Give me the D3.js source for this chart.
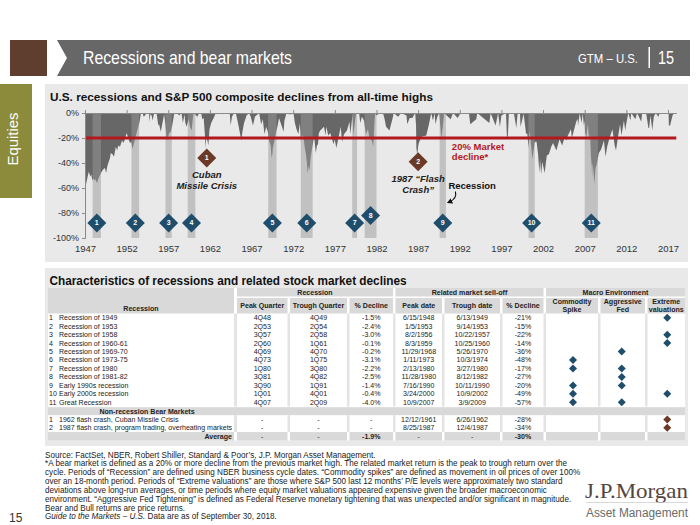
<!DOCTYPE html>
<html><head><meta charset="utf-8">
<script src="https://cdn.jsdelivr.net/npm/d3@7/dist/d3.min.js"></script>
<style>
body{margin:0;background:#fff;}
svg{display:block;font-family:"Liberation Sans",Arial,Helvetica,sans-serif;}
</style></head><body>
<svg id="c" width="700" height="525"></svg>
<script>
// ---------- DATA ----------
// S&P 500 decline from all-time high: [decimal year, % decline]
const drawdown = [
[1948.00,-54],[1948.12,-57],[1948.25,-53],[1948.38,-49],[1948.46,-47],[1948.55,-49],[1948.65,-51],[1948.75,-49],[1948.88,-54],
[1949.00,-52],[1949.12,-54],[1949.25,-53],[1949.38,-55],[1949.46,-56],[1949.58,-53],[1949.70,-51],[1949.85,-49],
[1950.00,-47],[1950.20,-45],[1950.40,-44],[1950.53,-48],[1950.70,-42],[1950.90,-38],[1951.00,-36],[1951.10,-32],[1951.30,-33],
[1951.48,-35],[1951.70,-27],[1951.85,-30],[1952.00,-26],[1952.20,-27],[1952.45,-22],[1952.60,-24],[1952.80,-21],[1953.00,-16],
[1953.20,-20],[1953.40,-24],[1953.55,-23],[1953.71,-29],[1953.85,-25],[1954.00,-21],[1954.20,-16],[1954.40,-11],[1954.55,-7],
[1954.72,0],[1954.90,0],[1955.05,-3],[1955.20,-2],[1955.40,0],[1955.70,0],[1955.73,-7],[1955.85,-1],[1956.00,-2],[1956.12,-6],
[1956.30,0],[1956.59,0],[1956.80,-10],[1956.90,-9],[1957.10,-15],[1957.30,-8],[1957.50,-1],[1957.65,-9],[1957.81,-22],
[1957.95,-20],[1958.10,-16],[1958.30,-15],[1958.50,-9],[1958.72,0],[1958.90,0],[1959.05,0],[1959.30,-2],[1959.59,0],
[1959.75,-8],[1959.95,-1],[1960.05,-8],[1960.20,-11],[1960.45,-5],[1960.60,-11],[1960.82,-14],[1960.95,-4],[1961.05,0],
[1961.50,-3],[1961.70,0],[1961.95,0],[1962.08,-5],[1962.25,-4],[1962.40,-18],[1962.49,-28],[1962.55,-20],[1962.70,-22],
[1962.81,-26],[1962.95,-13],[1963.15,-8],[1963.45,-4],[1963.70,0],[1963.90,-1],[1964.20,0],[1964.50,-1],[1964.90,0],
[1965.38,0],[1965.49,-10],[1965.65,-3],[1965.90,0],[1966.11,0],[1966.40,-9],[1966.60,-16],[1966.77,-22],[1966.90,-15],
[1967.10,-8],[1967.40,-2],[1967.70,0],[1967.90,-3],[1968.17,-10],[1968.40,-3],[1968.91,0],[1969.15,-9],[1969.35,-5],
[1969.55,-17],[1969.75,-11],[1969.95,-15],[1970.10,-22],[1970.30,-26],[1970.40,-36],[1970.50,-33],[1970.55,-28],[1970.75,-22],
[1970.95,-15],[1971.10,-11],[1971.30,-4],[1971.50,-8],[1971.85,-15],[1971.95,-6],[1972.20,0],[1972.50,-1],[1972.80,-1],
[1973.03,0],[1973.20,-8],[1973.40,-13],[1973.62,-17],[1973.80,-8],[1973.93,-23],[1974.00,-19],[1974.20,-18],[1974.40,-28],
[1974.55,-34],[1974.65,-40],[1974.72,-47],[1974.76,-48],[1974.85,-42],[1974.93,-46],[1975.00,-43],[1975.08,-36],[1975.20,-31],
[1975.45,-21],[1975.55,-21],[1975.71,-32],[1975.85,-26],[1975.98,-25],[1976.08,-16],[1976.25,-14],[1976.70,-11],[1976.88,-18],
[1976.98,-11],[1977.20,-18],[1977.45,-16],[1977.85,-25],[1977.98,-21],[1978.18,-28],[1978.40,-21],[1978.70,-11],[1978.87,-23],
[1978.98,-20],[1979.10,-17],[1979.45,-14],[1979.76,-7],[1979.85,-17],[1979.98,-10],[1980.12,-1.5],[1980.24,-18],[1980.40,-8],
[1980.55,0],[1980.91,0],[1981.05,-8],[1981.25,-3],[1981.50,-6],[1981.73,-17],[1981.98,-13],[1982.15,-20],[1982.45,-22],
[1982.61,-27],[1982.78,-5],[1982.84,0],[1982.98,-2],[1983.40,0],[1983.78,0],[1983.98,-5],[1984.15,-11],[1984.56,-14],
[1984.98,-3],[1985.05,0],[1985.60,-3],[1985.95,0],[1986.60,-2],[1986.70,-9],[1986.98,-4],[1987.30,-4],[1987.65,0],
[1987.75,-10],[1987.80,-33],[1987.85,-28],[1987.93,-34],[1987.99,-27],[1988.08,-24],[1988.40,-19],[1988.98,-18],[1989.30,-9],
[1989.57,0],[1989.78,-6],[1989.98,0],[1990.08,-9],[1990.30,-3],[1990.54,0],[1990.78,-20],[1990.98,-10],[1991.12,0],
[1991.90,-5],[1992.20,0],[1992.75,-4],[1993.10,0],[1994.10,0],[1994.26,-9],[1994.98,-5],[1995.10,0],[1996.55,-8],
[1996.70,0],[1997.30,-10],[1997.60,0],[1997.82,-11],[1998.00,-2],[1998.55,0],[1998.66,-19],[1998.77,-19],[1998.90,0],
[1999.50,0],[1999.79,-12],[1999.95,0],[2000.23,0],[2000.30,-11],[2000.67,-0.5],[2000.97,-17],[2001.10,-16],[2001.26,-28],
[2001.39,-14],[2001.72,-37],[2001.98,-24],[2002.08,-23],[2002.22,-23],[2002.40,-33],[2002.56,-48],[2002.64,-37],[2002.77,-49],
[2002.91,-39],[2003.00,-42],[2003.19,-48],[2003.45,-34],[2003.70,-33],[2003.98,-27],[2004.20,-24],[2004.60,-30],[2004.98,-21],
[2005.30,-26],[2005.60,-19],[2005.80,-22],[2005.98,-18],[2006.35,-13],[2006.46,-20],[2006.98,-7],[2007.15,-4.5],[2007.20,-10],
[2007.41,0],[2007.62,-8],[2007.77,0],[2007.90,-10],[2007.99,-6],[2008.05,-16],[2008.20,-19],[2008.38,-9],[2008.54,-22],
[2008.65,-17],[2008.72,-29],[2008.78,-43],[2008.82,-35],[2008.89,-52],[2008.95,-40],[2008.99,-42],[2009.06,-47],[2009.18,-57],
[2009.30,-44],[2009.45,-41],[2009.70,-32],[2009.98,-29],[2010.31,-22],[2010.50,-35],[2010.70,-27],[2010.98,-20],[2011.33,-13],
[2011.60,-26],[2011.76,-30],[2011.98,-20],[2012.25,-9],[2012.42,-18],[2012.71,-6],[2012.87,-14],[2012.98,-9],[2013.24,0],
[2013.48,-6],[2013.60,0],[2014.08,-5],[2014.30,0],[2014.79,-7],[2014.90,0],[2015.38,0],[2015.65,-12],[2015.74,-12],
[2015.90,-2],[2016.03,-9],[2016.11,-14],[2016.30,-3],[2016.53,0],[2016.85,-3],[2017.00,0],[2017.98,0],[2018.07,0],
[2018.11,-10],[2018.25,-10],[2018.55,-2],[2018.72,0],[2018.75,-0.5]
];
// NBER recessions: [peak year, peak month, trough year, trough month]
const recessions = [
[1948,11,1949,10],[1953,7,1954,5],[1957,8,1958,4],[1960,4,1961,2],[1969,12,1970,11],[1973,11,1975,3],
[1980,1,1980,7],[1981,7,1982,11],[1990,7,1991,3],[2001,3,2001,11],[2007,12,2009,6]
];
const recessionMarkerLevel = [-88,-88,-88,-88,-88,-88,-88,-82,-88,-88,-88];
const nonRecessionMarkers = [
  {n:"1", year:1962.62, level:-36, lines:["Cuban","Missile Crisis"]},
  {n:"2", year:1988.00, level:-39, lines:["1987 \u201cFlash","Crash\u201d"]}
];
const bearThreshold = -20;
const yTicks = [0,-20,-40,-60,-80,-100];
const xTickLabels = [1947,1952,1957,1962,1967,1972,1977,1982,1987,1992,1997,2002,2007,2012,2017];

// Table
const recNames = ["Recession of 1949","Recession of 1953","Recession of 1958","Recession of 1960-61","Recession of 1969-70",
  "Recession of 1973-75","Recession of 1980","Recession of 1981-82","Early 1990s recession","Early 2000s recession","Great Recession"];
const peakQuarter = ["4Q48","2Q53","3Q57","2Q60","4Q69","4Q73","1Q80","3Q81","3Q90","1Q01","4Q07"];
const troughQuarter = ["4Q49","2Q54","2Q58","1Q61","4Q70","1Q75","3Q80","4Q82","1Q91","4Q01","2Q09"];
const recDecline = ["-1.5%","-2.4%","-3.0%","-0.1%","-0.2%","-3.1%","-2.2%","-2.5%","-1.4%","-0.4%","-4.0%"];
const peakDate = ["6/15/1948","1/5/1953","8/2/1956","8/3/1959","11/29/1968","1/11/1973","2/13/1980","11/28/1980","7/16/1990","3/24/2000","10/9/2007"];
const troughDate = ["6/13/1949","9/14/1953","10/22/1957","10/25/1960","5/26/1970","10/3/1974","3/27/1980","8/12/1982","10/11/1990","10/9/2002","3/9/2009"];
const mktDecline = ["-21%","-15%","-22%","-14%","-36%","-48%","-17%","-27%","-20%","-49%","-57%"];
const commoditySpike = [0,0,0,0,0,1,1,0,1,1,1];
const aggressiveFed  = [0,0,0,0,1,0,1,1,1,0,1];
const extremeVal     = [1,0,1,1,0,0,0,0,0,1,0];
const nrNames = ["1962 flash crash, Cuban Missile Crisis","1987 flash crash, program trading, overheating markets"];
const nrPeakDate = ["12/12/1961","8/25/1987"];
const nrTroughDate = ["6/26/1962","12/4/1987"];
const nrDecline = ["-28%","-34%"];
const nrExtremeVal = [1,1];
const averageRow = ["-","-","-1.9%","-","-","-30%"];

const footLines = [
 "Source: FactSet, NBER, Robert Shiller, Standard & Poor\u2019s, J.P. Morgan Asset Management.",
 "*A bear market is defined as a 20% or more decline from the previous market high. The related market return is the peak to trough return over the",
 "cycle. Periods of \u201cRecession\u201d are defined using NBER business cycle dates. \u201cCommodity spikes\u201d are defined as movement in oil prices of over 100%",
 "over an 18-month period. Periods of \u201cExtreme valuations\u201d are those where S&P 500 last 12 months\u2019 P/E levels were approximately two standard",
 "deviations above long-run averages, or time periods where equity market valuations appeared expensive given the broader macroeconomic",
 "environment. \u201cAggressive Fed Tightening\u201d is defined as Federal Reserve monetary tightening that was unexpected and/or significant in magnitude.",
 "Bear and Bull returns are price returns."
];

// ---------- DRAW ----------
const svg = d3.select("#c");
const NAVY = "#1f4d6c", BROWN = "#6b3a27", RED = "#b3181f";

// header
svg.append("rect").attr("x",10).attr("y",40).attr("width",37).attr("height",36).attr("fill","#5f3d2f");
svg.append("path").attr("d","M57,40L690,40L690,76L57,76L67,58Z").attr("fill","#676767");
svg.append("text").attr("x",83).attr("y",64).attr("fill","#fff").attr("font-size",19)
  .attr("textLength",209).attr("lengthAdjust","spacingAndGlyphs").text("Recessions and bear markets");
svg.append("text").attr("x",578).attr("y",63).attr("fill","#fff").attr("font-size",13)
  .attr("textLength",60).attr("lengthAdjust","spacingAndGlyphs").text("GTM \u2013 U.S.");
svg.append("rect").attr("x",648.5).attr("y",47).attr("width",1.5).attr("height",21).attr("fill","#fff");
svg.append("text").attr("x",658).attr("y",64).attr("fill","#fff").attr("font-size",18)
  .attr("textLength",16).attr("lengthAdjust","spacingAndGlyphs").text("15");

// side tab
svg.append("rect").attr("x",0).attr("y",84).attr("width",32).attr("height",114).attr("fill","#8b8b3b");
svg.append("text").attr("transform","translate(18,139) rotate(-90)").attr("text-anchor","middle")
  .attr("fill","#fff").attr("font-size",14).attr("textLength",53).attr("lengthAdjust","spacingAndGlyphs").text("Equities");

// panels
svg.append("rect").attr("x",45).attr("y",84).attr("width",643).attr("height",178).attr("fill","#e9e9e9");
svg.append("rect").attr("x",45).attr("y",268).attr("width",643).attr("height",178).attr("fill","#e9e9e9");

svg.append("text").attr("x",50).attr("y",101).attr("font-weight","bold").attr("font-size",11.5).attr("fill","#111")
  .attr("textLength",383).attr("lengthAdjust","spacingAndGlyphs")
  .text("U.S. recessions and S&P 500 composite declines from all-time highs");

// scales
const x = d3.scaleLinear().domain([1948, 2019]).range([85, 676.3]);
const y = d3.scaleLinear().domain([-100, 0]).range([238, 113]);
const g = svg.append("g");

// area
g.append("path").datum(drawdown)
  .attr("d", d3.area().x(d=>x(d[0])).y0(y(0)).y1(d=>y(d[1])))
  .attr("fill","#676767");

// recession bands
const recStart = r => r[0] + r[1]/12;
const recEnd = r => r[2] + (r[3]+1)/12;
g.selectAll("rect.rec").data(recessions).join("rect")
  .attr("x", d=>x(recStart(d))).attr("width", d=>x(recEnd(d))-x(recStart(d)))
  .attr("y", y(0)).attr("height", y(-100)-y(0))
  .attr("fill","#999").attr("fill-opacity",0.5);

// bear threshold
g.append("line").attr("x1",x(1948)).attr("x2",x(2019)).attr("y1",y(bearThreshold)).attr("y2",y(bearThreshold))
  .attr("stroke",RED).attr("stroke-width",3);

// axes
const yAx = g.append("g").attr("transform",`translate(${x(1948)},0)`)
  .call(d3.axisLeft(y).tickValues(yTicks).tickSize(3).tickPadding(3).tickFormat(d=>d+"%"));
yAx.select(".domain").attr("stroke","#8a8a8a");
yAx.selectAll(".tick line").attr("stroke","#8a8a8a");
yAx.selectAll("text").attr("font-size",9).attr("fill","#333").attr("font-family","Liberation Sans,Arial,sans-serif");

// ticks mark the end of each labelled year
const xTop = g.append("g").attr("transform",`translate(0,${y(0)})`)
  .call(d3.axisTop(x).tickValues(xTickLabels.map(v=>v+1)).tickSize(3).tickSizeOuter(0).tickFormat(""));
xTop.select(".domain").attr("stroke","#8a8a8a");
xTop.selectAll(".tick line").attr("stroke","#8a8a8a");
const xBot = g.append("g").attr("transform",`translate(0,${y(-100)})`)
  .call(d3.axisBottom(x).tickValues(xTickLabels.map(v=>v+1)).tickSize(0).tickPadding(7).tickFormat(d=>String(d-1)));
xBot.select(".domain").remove();
xBot.selectAll("text").attr("font-size",9.5).attr("fill","#333").attr("font-family","Liberation Sans,Arial,sans-serif");

// diamonds
const dia = "M0,-9.5L9.5,0L0,9.5L-9.5,0Z";
const rm = g.selectAll("g.rm").data(recessions).join("g")
  .attr("transform",(d,i)=>`translate(${x((recStart(d)+recEnd(d))/2)},${y(recessionMarkerLevel[i])})`);
rm.append("path").attr("d",dia).attr("fill",NAVY);
rm.append("text").attr("text-anchor","middle").attr("dy","0.35em").attr("fill","#fff")
  .attr("font-size",7).attr("font-weight","bold").text((d,i)=>String(i+1));

const nm = g.selectAll("g.nm").data(nonRecessionMarkers).join("g")
  .attr("transform",d=>`translate(${x(d.year)},${y(d.level)})`);
nm.append("path").attr("d",dia).attr("fill",BROWN);
nm.append("text").attr("text-anchor","middle").attr("dy","0.35em").attr("fill","#fff")
  .attr("font-size",7).attr("font-weight","bold").text(d=>d.n);
nm.each(function(d){
  d.lines.forEach((t,k)=>{
    d3.select(this).append("text").attr("text-anchor","middle").attr("y",20+k*10.8)
      .attr("font-size",9.5).attr("font-weight","bold").attr("font-style","italic").attr("fill","#222").text(t);
  });
});

// 20% label
g.append("text").attr("x",x(1992.05)).attr("y",y(bearThreshold)+11.5).attr("fill",RED)
  .attr("font-size",9.5).attr("font-weight","bold").text("20% Market");
g.append("text").attr("x",x(1992.05)).attr("y",y(bearThreshold)+22).attr("fill",RED)
  .attr("font-size",9.5).attr("font-weight","bold").text("decline*");

// recession legend
const r9 = recessions[8];
const lx = x(recEnd(r9));
g.append("text").attr("x",lx+2.5).attr("y",189).attr("font-size",9.5).attr("font-weight","bold").attr("fill","#111").text("Recession");
svg.append("defs").append("marker").attr("id","ah").attr("viewBox","0 0 10 10").attr("refX",5).attr("refY",5)
  .attr("markerWidth",5).attr("markerHeight",5).attr("orient","auto")
  .append("path").attr("d","M0,0L10,5L0,10Z").attr("fill","#111");
g.append("path").attr("d",`M${lx+9.5},191.5 C${lx+11},197 ${lx+8},200 ${lx+3.5},202`)
  .attr("fill","none").attr("stroke","#111").attr("stroke-width",1.1).attr("marker-end","url(#ah)");

// ---------- TABLE ----------
svg.append("text").attr("x",49.5).attr("y",284.5).attr("font-weight","bold").attr("font-size",12).attr("fill","#111")
  .attr("textLength",357).attr("lengthAdjust","spacingAndGlyphs")
  .text("Characteristics of recessions and related stock market declines");

const T = svg.append("g").attr("font-size",7.05).attr("fill","#222");
const cols = [[48,234],[237,287.5],[290,347],[349.5,393],[395.5,442],[444.5,500],[502.5,543.5],[546,598],[600.5,645],[647.5,685]];
const cx = i => (cols[i][0]+cols[i][1])/2;
const HG = "#d9d9d9";
const tTop = 288, hA = 296.5, hB0 = 298, dataTop = 313.5, rowH = 8.46;
const dataBot = dataTop + 11*rowH;
const nrTop = dataBot + 0.6, nrBot = nrTop + 8;
const avgTop = nrBot + 2*rowH, avgBot = avgTop + 8.5;

T.append("rect").attr("x",48).attr("y",tTop).attr("width",637).attr("height",avgBot-tTop).attr("fill","#fff");
T.append("rect").attr("x",cols[0][0]).attr("y",tTop).attr("width",cols[0][1]-cols[0][0]).attr("height",dataTop-tTop).attr("fill",HG);
const groups = [[1,3,"Recession"],[4,6,"Related market sell-off"],[7,9,"Macro Environment"]];
groups.forEach(([a,b,t])=>{
  T.append("rect").attr("x",cols[a][0]).attr("y",tTop).attr("width",cols[b][1]-cols[a][0]).attr("height",hA-tTop).attr("fill",HG);
  T.append("text").attr("x",(cols[a][0]+cols[b][1])/2).attr("y",(tTop+hA)/2).attr("dy","0.35em")
    .attr("text-anchor","middle").attr("font-weight","bold").text(t);
});
const heads = [["Peak Quarter"],["Trough Quarter"],["% Decline"],["Peak date"],["Trough date"],["% Decline"],
  ["Commodity","Spike"],["Aggressive","Fed"],["Extreme","valuations"]];
heads.forEach((h,k)=>{
  const i = k+1;
  T.append("rect").attr("x",cols[i][0]).attr("y",hB0).attr("width",cols[i][1]-cols[i][0]).attr("height",dataTop-hB0).attr("fill",HG);
  h.forEach((t,j)=>{
    const yy = h.length===1 ? (hB0+dataTop)/2 : (hB0+dataTop)/2 - 4 + j*8;
    T.append("text").attr("x",cx(i)).attr("y",yy).attr("dy","0.35em").attr("text-anchor","middle").attr("font-weight","bold").text(t);
  });
});
T.append("text").attr("x",cx(0)).attr("y",308.3).attr("dy","0.35em").attr("text-anchor","middle").attr("font-weight","bold").text("Recession");

for(let i=0;i<cols.length-1;i++){
  const sx = cols[i][1], w = cols[i+1][0]-cols[i][1];
  T.append("rect").attr("x",sx).attr("y",dataTop).attr("width",w).attr("height",dataBot-dataTop).attr("fill","#e4e4e4");
  T.append("rect").attr("x",sx).attr("y",nrBot).attr("width",w).attr("height",avgTop-nrBot).attr("fill","#e4e4e4");
}

function diamondAt(xc, yc, color){
  T.append("path").attr("d","M0,-4L4,0L0,4L-4,0Z").attr("transform",`translate(${xc},${yc})`).attr("fill",color);
}
recNames.forEach((nm,r)=>{
  const yc = dataTop + (r+0.5)*rowH;
  T.append("text").attr("x",49).attr("y",yc).attr("dy","0.35em").text(String(r+1));
  T.append("text").attr("x",59).attr("y",yc).attr("dy","0.35em").text(nm);
  [peakQuarter[r],troughQuarter[r],recDecline[r],peakDate[r],troughDate[r],mktDecline[r]].forEach((v,k)=>{
    T.append("text").attr("x",cx(k+1)).attr("y",yc).attr("dy","0.35em").attr("text-anchor","middle").text(v);
  });
  if(commoditySpike[r]) diamondAt(cx(7)+1, yc, NAVY);
  if(aggressiveFed[r]) diamondAt(cx(8)-1, yc, NAVY);
  if(extremeVal[r]) diamondAt(cx(9)+1, yc, NAVY);
});
T.append("rect").attr("x",48).attr("y",nrTop).attr("width",637).attr("height",nrBot-nrTop).attr("fill",HG);
T.append("text").attr("x",cx(0)+6).attr("y",(nrTop+nrBot)/2).attr("dy","0.35em").attr("text-anchor","middle")
  .attr("font-weight","bold").text("Non-recession Bear Markets");
nrNames.forEach((nm,r)=>{
  const yc = nrBot + (r+0.5)*rowH;
  T.append("text").attr("x",49).attr("y",yc).attr("dy","0.35em").text(String(r+1));
  T.append("text").attr("x",59).attr("y",yc).attr("dy","0.35em").text(nm);
  ["-","-","-",nrPeakDate[r],nrTroughDate[r],nrDecline[r]].forEach((v,k)=>{
    T.append("text").attr("x",cx(k+1)).attr("y",yc).attr("dy","0.35em").attr("text-anchor","middle").text(v);
  });
  if(nrExtremeVal[r]) diamondAt(cx(9)+1, yc, BROWN);
});
cols.forEach((c,i)=>{
  T.append("rect").attr("x",c[0]).attr("y",avgTop).attr("width",c[1]-c[0]).attr("height",avgBot-avgTop).attr("fill",HG);
});
const avgY = (avgTop+avgBot)/2;
T.append("text").attr("x",232).attr("y",avgY).attr("dy","0.35em").attr("text-anchor","end").attr("font-weight","bold").text("Average");
averageRow.forEach((v,k)=>{
  T.append("text").attr("x",cx(k+1)).attr("y",avgY).attr("dy","0.35em").attr("text-anchor","middle")
    .attr("font-weight", v==="-"?"normal":"bold").text(v);
});

// ---------- FOOTER ----------
const F = svg.append("g").attr("font-size",8.15).attr("fill","#222");
footLines.forEach((t,i)=>{
  F.append("text").attr("x",45).attr("y",457.5+i*8.85).text(t);
});
const last = F.append("text").attr("x",45).attr("y",457.5+7*8.85);
last.append("tspan").attr("font-style","italic").text("Guide to the Markets \u2013 U.S.");
last.append("tspan").text(" Data are as of September 30, 2018.");
svg.append("text").attr("x",9).attr("y",522).attr("font-size",12).attr("fill","#333").text("15");

// logo
svg.append("text").attr("x",585).attr("y",498).attr("font-family","Liberation Serif,DejaVu Serif,serif").attr("font-size",22)
  .attr("fill","#54463f").attr("textLength",103).attr("lengthAdjust","spacingAndGlyphs").text("J.P.Morgan");
svg.append("line").attr("x1",586).attr("x2",688).attr("y1",502.5).attr("y2",502.5).attr("stroke","#c8c8c8").attr("stroke-width",0.7);
svg.append("text").attr("x",586).attr("y",517).attr("font-size",12.5).attr("fill","#6a6a6a")
  .attr("textLength",102).attr("lengthAdjust","spacingAndGlyphs").text("Asset Management");
</script>
</body></html>
